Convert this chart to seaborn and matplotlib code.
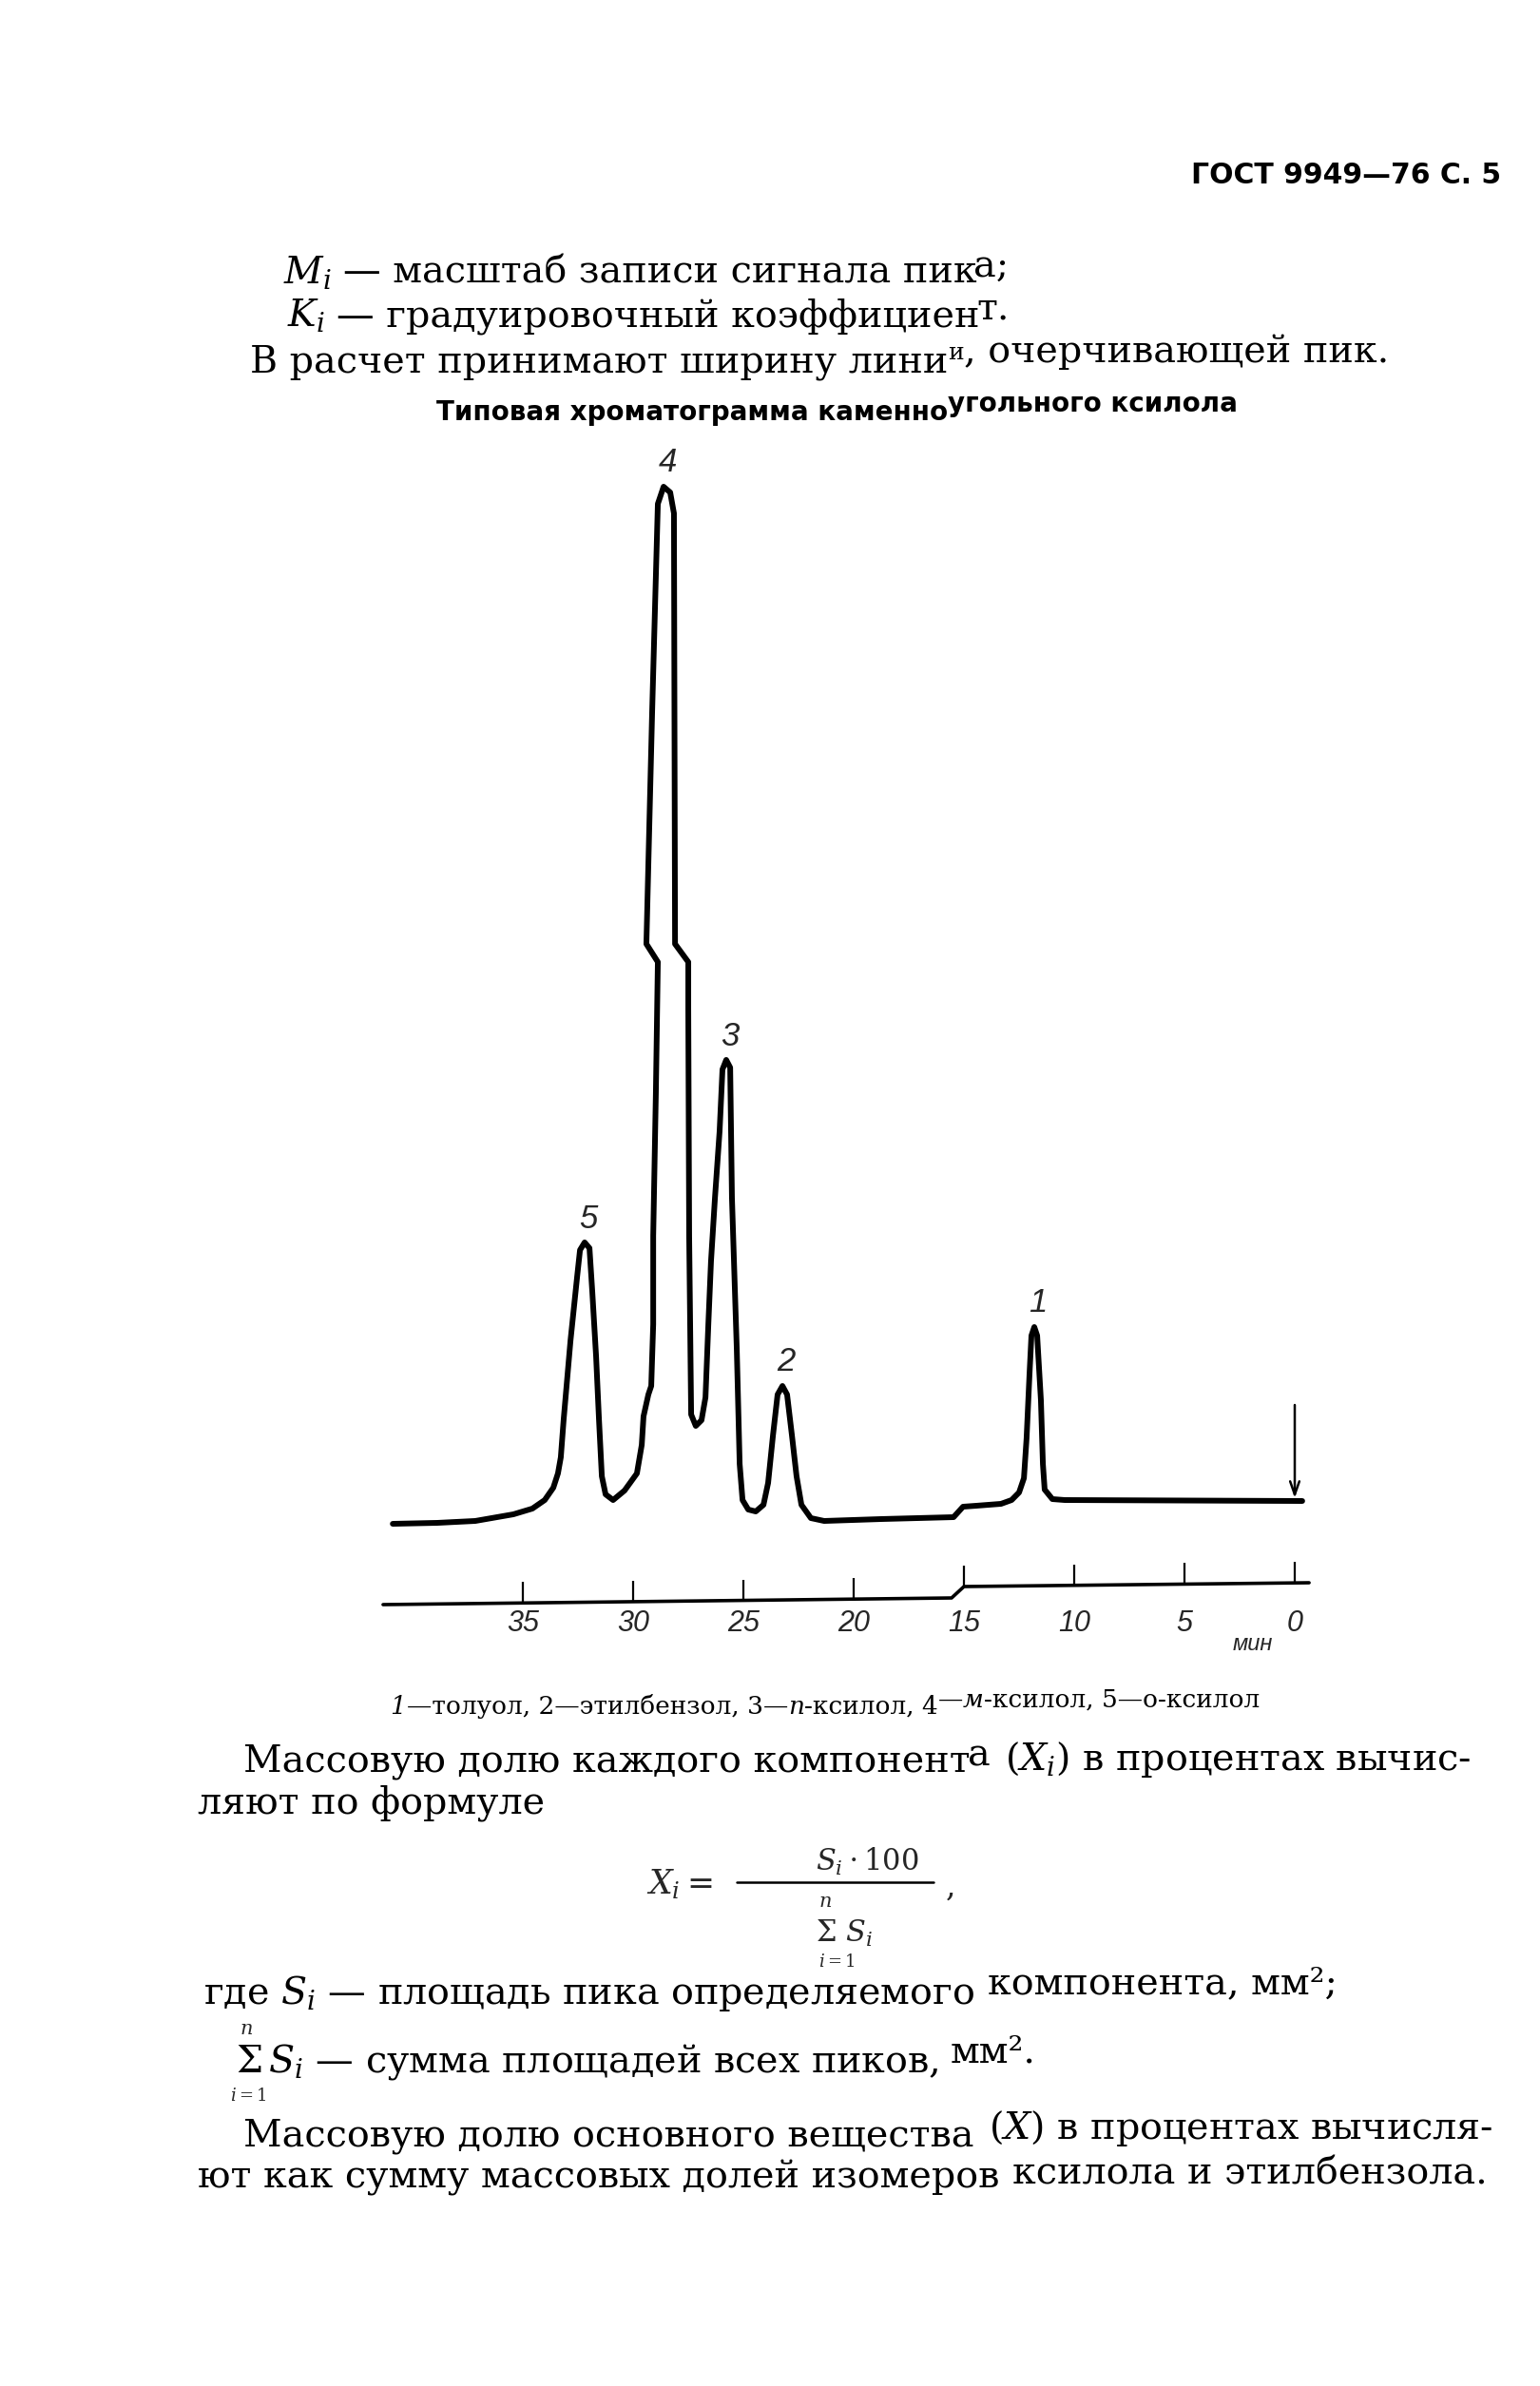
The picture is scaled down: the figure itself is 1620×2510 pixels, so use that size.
"""
plot.py
Typical chromatogram of coal-tar xylene (GOST 9949-76, page 5) redrawn with seaborn.
"""

import numpy as np
import pandas as pd
import matplotlib
matplotlib.use('Agg')
import matplotlib.pyplot as plt
from matplotlib.lines import Line2D
import seaborn as sns

# chromatogram trace: time in minutes, pen deflection in mm
retention_time = [40.90, 38.88, 37.16, 35.43, 34.57, 34.01, 33.62, 33.41, 33.28, 33.15,
                  32.84, 32.54, 32.41, 32.20, 31.98, 31.85, 31.68, 31.55, 31.42, 31.25,
                  30.91, 30.39, 29.83, 29.61, 29.53, 29.31, 29.18, 29.09, 29.09, 28.97,
                  28.88, 29.40, 29.14, 28.88, 28.62, 28.32, 28.15, 28.10, 27.50, 27.50,
                  27.46, 27.37, 27.16, 26.90, 26.72, 26.59, 26.47, 26.29, 26.08, 25.95,
                  25.78, 25.60, 25.52, 25.30, 25.17, 25.04, 24.78, 24.44, 24.09, 23.88,
                  23.66, 23.45, 23.23, 23.02, 22.80, 22.59, 22.37, 21.94, 21.34, 18.75,
                  15.47, 15.04, 14.44, 13.32, 12.84, 12.50, 12.28, 12.16, 12.03, 11.94,
                  11.81, 11.68, 11.51, 11.42, 11.34, 10.99, 10.43, -0.34]
detector_signal = [0.7, 0.8, 1.0, 1.7, 2.3, 3.2, 4.5, 6.0, 7.7, 11.7,
                   20.0, 26.7, 29.5, 30.3, 29.7, 25.0, 18.3, 11.7, 5.7, 3.8,
                   3.2, 4.2, 6.0, 9.0, 12.0, 14.3, 15.2, 21.7, 31.0, 46.0,
                   59.8, 61.7, 86.0, 108.0, 109.8, 109.2, 107.0, 61.7, 59.8, 55.0,
                   31.0, 12.2, 11.0, 11.6, 14.0, 21.7, 28.3, 35.0, 42.0, 48.5,
                   49.5, 48.7, 35.0, 19.0, 7.0, 3.2, 2.2, 2.0, 2.7, 5.0,
                   10.0, 14.3, 15.2, 14.3, 10.0, 5.7, 2.7, 1.3, 1.0, 1.2,
                   1.4, 2.5, 2.6, 2.8, 3.2, 4.0, 5.5, 9.7, 16.3, 20.5,
                   21.4, 20.5, 13.7, 7.0, 4.3, 3.3, 3.2, 3.1]

# peak numbers and their tops
peak_labels = ['5', '4', '3', '2', '1']
peak_time = [32.20, 28.62, 25.78, 23.23, 11.81]
peak_height = [30.3, 109.8, 49.5, 15.2, 21.4]

# injection mark
injection_time = 0.0
injection_from = 13.2

# time ruler under the trace (it has a step at 15 min)
ruler_time = [41.34, 15.56, 15.0, -0.65]
ruler_level = [-7.8, -7.1, -5.9, -5.5]
tick_minutes = [35, 30, 25, 20, 15, 10, 5, 0]
tick_labels = ['35', '30', '25', '20', '15', '10', '5', '0']

W, H = 1620, 2510

sns.set_style('white')
plt.rcParams.update({'font.family': ['DejaVu Serif'],
                     'mathtext.fontset': 'dejavuserif',
                     'figure.dpi': 100})

fig = plt.figure(figsize=(W / 100, H / 100), dpi=100)
fig.patch.set_facecolor('white')
renderer = fig.canvas.get_renderer()


def fx(x):
    return x / W


def fy(y):
    return 1 - y / H


def write(x, y, pieces, **base):
    """Left-aligned text run; each piece is (text, gap_px, rise_px, extra kwargs)."""
    for text, gap, rise, extra in pieces:
        x += gap
        kw = {'color': 'black', **base, **extra}
        t = fig.text(fx(x), fy(y - rise), text, ha='left', va='baseline', **kw)
        x = t.get_window_extent(renderer).x1


body = dict(fontsize=28.5, family='DejaVu Serif')

# page header and text above the chart
write(1253, 193, [('ГОСТ 9949—76 С. 5', 0, 0, {})],
      fontsize=21.5, family='DejaVu Sans', weight='bold')
write(298, 298, [('$M_i$', 0, 0, {}), ('— масштаб записи сигнала пик', 12, 0, {}),
                 ('а;', -3, 7, {})], **body)
write(302, 343, [('$K_i$', 0, 0, {}), ('— градуировочный коэффициен', 12, 0, {}),
                 ('т.', -3, 8, {})], **body)
write(263, 392, [('В расчет принимают ширину лини', 0, 0, {}),
                 ('и', 0, 14, {'fontsize': 18}),
                 (', очерчивающей пик.', 0, 11, {})], **body)
write(459, 442, [('Типовая хроматограмма каменно', 0, 0, {}),
                 ('угольного ксилола', 0, 9, {})],
      fontsize=20, family='DejaVu Sans', weight='bold')

# chromatogram
ax = fig.add_axes([fx(380), fy(1780), 1040 / W, 1320 / H])
chrom = pd.DataFrame({'time': retention_time, 'signal': detector_signal})
sns.lineplot(data=chrom, x='time', y='signal', sort=False, estimator=None,
             color='black', lw=4.3, ax=ax,
             solid_joinstyle='round', solid_capstyle='round')

for lab, t, h in zip(peak_labels, peak_time, peak_height):
    ax.annotate(lab, (t, h), xytext=(3, 18), textcoords='offset points',
                ha='center', va='center', fontsize=25, style='italic',
                family='Liberation Sans')

ax.annotate('', xy=(injection_time, detector_signal[-1] + 0.3),
            xytext=(injection_time, injection_from),
            arrowprops=dict(arrowstyle='->,head_length=1.0,head_width=0.35',
                            lw=1.8, color='black', shrinkA=0, shrinkB=0))

ruler = pd.DataFrame({'time': ruler_time, 'level': ruler_level})
sns.lineplot(data=ruler, x='time', y='level', sort=False, estimator=None,
             color='black', lw=2.6, ax=ax)
tick_base = np.interp(tick_minutes, ruler_time[::-1], ruler_level[::-1])
ax.vlines(tick_minutes, tick_base, tick_base + 2.2, color='black', lw=1.6)
for m, lab in zip(tick_minutes, tick_labels):
    ax.text(m, -8.3, lab, ha='center', va='top', fontsize=22,
            style='italic', family='Liberation Sans')
ax.text(1.9, -12.0, 'мин', ha='center', va='center', fontsize=17,
        style='italic', family='Liberation Sans')

ax.set_xlim(42.33, -2.5)
ax.set_ylim(-17, 115)
ax.axis('off')

# caption and text below the chart
write(410, 1803, [('1', 0, 0, {'style': 'italic'}),
                  ('—толуол, 2—этилбензол, 3—', 1, 0, {}),
                  ('п', 0, 0, {'style': 'italic'}),
                  ('-ксилол, 4', 0, 0, {}),
                  ('—', 0, 7, {}),
                  ('м', 0, 7, {'style': 'italic'}),
                  ('-ксилол, 5—о-ксилол', 0, 7, {})],
      fontsize=19, family='DejaVu Serif')

write(256, 1863, [('Массовую долю каждого компонент', 0, 0, {}), ('а', -3, 6, {}),
                  ('($X_i$) в процентах вычис-', 16, 1, {})], **body)
write(208, 1908, [('ляют по формуле', 0, 0, {})], **body)

# formula X_i = S_i*100 / sum S_i
fig.text(fx(680), fy(1992), '$X_i =$', fontsize=25, va='baseline')
fig.add_artist(Line2D([fx(775), fx(982)], [fy(1980), fy(1980)], lw=1.8, color='black'))
fig.text(fx(912), fy(1968), r'$S_i\cdot100$', ha='center', va='baseline', fontsize=22)
fig.text(fx(995), fy(1995), ',', va='baseline', fontsize=24)
fig.text(fx(868), fy(2000), '$n$', ha='center', va='center', fontsize=15)
fig.text(fx(858), fy(2043), r'$\Sigma\ S_i$', va='baseline', fontsize=22)
fig.text(fx(880), fy(2064), '$i=1$', ha='center', va='center', fontsize=13)

write(214, 2108, [('где $S_i$ — площадь пика определяемого', 0, 0, {}),
                  ('компонента, мм²;', 14, 11, {})], **body)
fig.text(fx(259), fy(2135), '$n$', ha='center', va='center', fontsize=15)
write(248, 2180, [(r'$\Sigma\,S_i$ — сумма площадей всех пиков,', 0, 0, {}),
                  ('мм².', 12, 10, {})], **body)
fig.text(fx(261), fy(2205), '$i=1$', ha='center', va='center', fontsize=13)
write(256, 2257, [('Массовую долю основного вещества', 0, 0, {}),
                  ('($X$) в процентах вычисля-', 16, 7, {})], **body)
write(208, 2302, [('ют как сумму массовых долей изомеров', 0, 0, {}),
                  ('ксилола и этилбензола.', 14, 5, {})], **body)

fig.savefig('out.png', dpi=100, facecolor='white')
plt.close()
print("Saved: out.png")
